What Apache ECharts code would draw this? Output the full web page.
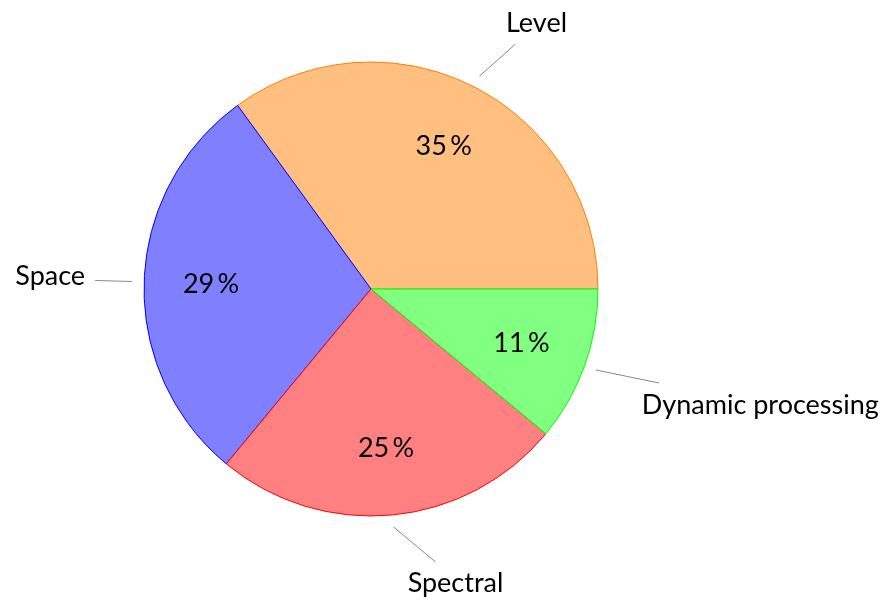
<!DOCTYPE html>
<html>
<head>
<meta charset="utf-8">
<script src="https://cdn.jsdelivr.net/npm/echarts@6/dist/echarts.min.js"></script>
<style>
  html, body { margin: 0; padding: 0; background: #fff; }
  #chart { width: 886px; height: 604px; }
</style>
</head>
<body>
<div id="chart"></div>
<script>
const categories = ['Level', 'Space', 'Spectral', 'Dynamic processing']
const shares = [35, 29, 25, 11]

const fills = ['#ffbf80', '#8080ff', '#ff8080', '#80ff80']
const borders = ['#ff8000', '#0000ff', '#ff0000', '#00ff00']
// leader line direction (from the slice edge) and name placement from its end
const leader = [
  { lx: 36, ly: -32, dx: 21, dy: -21, align: 'center' },
  { lx: -37, ly: -1, dx: -10, dy: -4, align: 'right' },
  { lx: 42, ly: 35, dx: 20, dy: 21, align: 'center' },
  { lx: 63, ly: 13, dx: -17, dy: 22, align: 'left' },
]

const FONT = 'Lato'
const FS = 27
const cx = 371
const cy = 289
const R = 227

const chart = echarts.init(document.getElementById('chart'), null, { renderer: 'canvas' })

chart.setOption({
  animation: false,
  series: [
    {
      type: 'pie',
      silent: true,
      center: [cx, cy],
      radius: [0, R],
      startAngle: 0,
      clockwise: false,
      label: { show: false },
      labelLine: { show: false },
      emphasis: { disabled: true },
      data: categories.map((name, i) => ({
        name,
        value: shares[i],
        itemStyle: { color: fills[i], borderColor: borders[i], borderWidth: 1 },
      })),
    },
    {
      // percentage labels
      type: 'pie',
      silent: true,
      center: [cx, cy],
      radius: [75, 239],
      startAngle: 0,
      clockwise: false,
      itemStyle: { color: 'rgba(0,0,0,0)', borderWidth: 0 },
      label: {
        show: true,
        position: 'inside',
        formatter: (p) => p.value + '\u2009%',
        fontFamily: FONT,
        fontSize: FS,
        color: '#000',
      },
      labelLine: { show: false },
      emphasis: { disabled: true },
      data: categories.map((name, i) => ({ name, value: shares[i] })),
    },
    {
      // category names with leader lines
      type: 'pie',
      silent: true,
      center: [cx, cy],
      radius: [0, 239],
      startAngle: 0,
      clockwise: false,
      avoidLabelOverlap: false,
      itemStyle: { color: 'rgba(0,0,0,0)', borderWidth: 0 },
      label: {
        show: true,
        position: 'outside',
        fontFamily: FONT,
        fontSize: FS,
        color: '#000',
      },
      labelLine: {
        show: true,
        length: 40,
        length2: 0,
        smooth: false,
        lineStyle: { color: '#888', width: 1 },
      },
      labelLayout: (p) => {
        const start = p.labelLinePoints[0]
        const s = leader[p.dataIndex]
        const end = [start[0] + s.lx, start[1] + s.ly]
        return {
          x: end[0] + s.dx,
          y: end[1] + s.dy,
          align: s.align,
          verticalAlign: 'middle',
          labelLinePoints: [start, end],
        }
      },
      emphasis: { disabled: true },
      data: categories.map((name, i) => ({ name, value: shares[i] })),
    },
  ],
})
</script>
</body>
</html>
